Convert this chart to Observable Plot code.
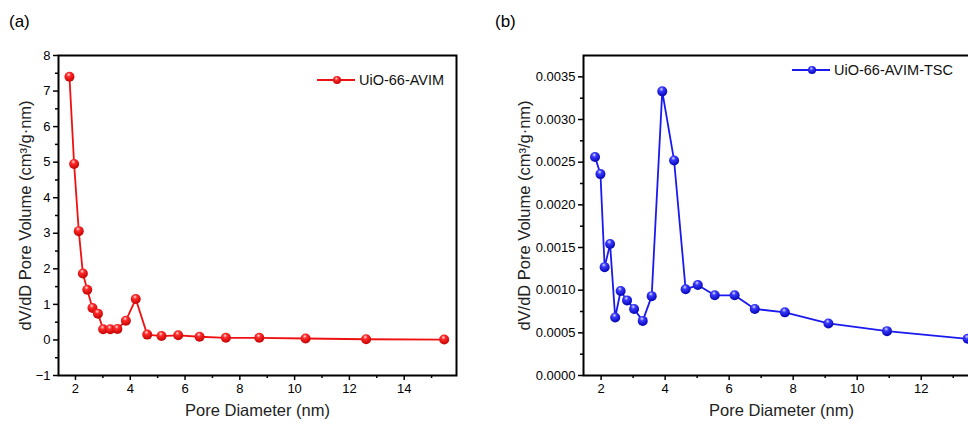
<!DOCTYPE html>
<html>
<head>
<meta charset="utf-8">
<script src="https://cdn.jsdelivr.net/npm/d3@7"></script>
<script src="https://cdn.jsdelivr.net/npm/@observablehq/plot@0.6"></script>
<style>
  html, body { margin: 0; padding: 0; background: #fff; overflow: hidden; }
  #wrap { position: relative; width: 968px; height: 425px; overflow: hidden; font-family: "Liberation Sans", Arial, sans-serif; }
  .panel { position: absolute; top: 0; width: 600px; }
  .panel svg { max-width: none !important; display: block; }
  .tag { position: absolute; font-size: 17px; color: #000; }
  .legend { position: absolute; display: flex; align-items: center; font-size: 14.5px; color: #111; white-space: nowrap; }
  .legend svg { margin-right: 4px; }
</style>
</head>
<body>
<div id="wrap"></div>
<script>
// ---- Data ----
const poreA = [1.78, 1.95, 2.12, 2.27, 2.43, 2.62, 2.82, 3.01, 3.27, 3.53, 3.84, 4.20, 4.62, 5.14, 5.75, 6.53, 7.49, 8.71, 10.40, 12.61, 15.46];
const volA  = [7.40, 4.95, 3.06, 1.87, 1.41, 0.90, 0.74, 0.30, 0.30, 0.31, 0.54, 1.15, 0.15, 0.11, 0.13, 0.09, 0.06, 0.06, 0.04, 0.02, 0.01];
const poreB = [1.81, 1.98, 2.11, 2.28, 2.44, 2.61, 2.81, 3.03, 3.30, 3.58, 3.91, 4.28, 4.64, 5.02, 5.55, 6.17, 6.80, 7.74, 9.10, 10.93, 13.45];
const volB  = [0.00256, 0.00236, 0.00127, 0.00154, 0.00068, 0.00099, 0.00088, 0.00078, 0.00064, 0.00093, 0.00333, 0.00252, 0.00101, 0.00106, 0.00094, 0.00094, 0.00078, 0.00074, 0.00061, 0.00052, 0.00043];

const seriesA = "UiO-66-AVIM";
const seriesB = "UiO-66-AVIM-TSC";
const xTicksA = [2, 4, 6, 8, 10, 12, 14];
const yTicksA = [-1, 0, 1, 2, 3, 4, 5, 6, 7, 8];
const xTicksB = [2, 4, 6, 8, 10, 12];
const yTicksB = [0, 0.0005, 0.001, 0.0015, 0.002, 0.0025, 0.003, 0.0035];
const xTitle = "Pore Diameter (nm)";
const yTitle = "dV/dD Pore Volume (cm³/g·nm)";

const rowsA = poreA.map((d, i) => ({d, v: volA[i]}));
const rowsB = poreB.map((d, i) => ({d, v: volB[i]}));

const fontFamily = '"Liberation Sans", Arial, sans-serif';

function panel({rows, width, marginLeft, xDomain, yDomain, xTicks, yTicks, xMinor, yMinor, yFormat, color, grad, titleDx}) {
  const svg = Plot.plot({
    width, height: 425,
    marginLeft, marginRight: 24, marginTop: 55, marginBottom: 50,
    style: {fontFamily, fontSize: "13px", color: "#000", background: "transparent", overflow: "visible", maxWidth: "none"},
    x: {domain: xDomain},
    y: {domain: yDomain},
    marks: [
      Plot.axisX({ticks: xMinor, tickSize: 3, tickFormat: () => "", label: null, strokeWidth: 1.5}),
      Plot.axisX({ticks: xTicks, tickSize: 5, tickPadding: 3, label: null, strokeWidth: 1.5}),
      Plot.axisY({ticks: yMinor, tickSize: 3, tickFormat: () => "", label: null, strokeWidth: 1.5}),
      Plot.axisY({ticks: yTicks, tickSize: 5, tickPadding: 3, label: null, strokeWidth: 1.5, tickFormat: yFormat}),
      Plot.line(rows, {x: "d", y: "v", stroke: color, strokeWidth: 1.8}),
      Plot.dot(rows, {x: "d", y: "v", r: 5, fill: `url(#${grad})`, stroke: "none"}),
      Plot.frame({strokeWidth: 2, stroke: "#000"}),
      Plot.text([xTitle], {frameAnchor: "bottom", dy: 40, fontSize: 16.5, fill: "#222"}),
      Plot.text([yTitle], {frameAnchor: "left", textAnchor: "middle", rotate: -90, dx: titleDx, fontSize: 16.5, fill: "#222"})
    ]
  });
  return svg;
}

function addGradient(svg, id, light, mid, dark) {
  d3.select(svg).insert("defs", ":first-child").html(
    `<radialGradient id="${id}" cx="0.42" cy="0.32" r="0.7" fx="0.42" fy="0.28">
       <stop offset="0" stop-color="${light}"/>
       <stop offset="0.3" stop-color="${mid}"/>
       <stop offset="1" stop-color="${dark}"/>
     </radialGradient>`
  );
}

const wrap = document.getElementById("wrap");

const svgA = panel({
  rows: rowsA, width: 480, marginLeft: 58,
  xDomain: [1.38, 15.91], yDomain: [-1, 8],
  xTicks: xTicksA, yTicks: yTicksA,
  xMinor: d3.range(3, 16, 2), yMinor: d3.range(-0.5, 8, 1),
  yFormat: undefined, color: "#ee1111", grad: "ballred", titleDx: -33
});
addGradient(svgA, "ballred", "#ffe0e0", "#ff2a2a", "#c00000");
const divA = document.createElement("div");
divA.className = "panel"; divA.style.left = "0px";
divA.appendChild(svgA);
wrap.appendChild(divA);

const svgB = panel({
  rows: rowsB, width: 515, marginLeft: 95,
  xDomain: [1.45, 13.82], yDomain: [0, 0.00375],
  xTicks: xTicksB, yTicks: yTicksB,
  xMinor: d3.range(3, 14, 2), yMinor: d3.range(0.00025, 0.0037, 0.0005),
  yFormat: d3.format(".4f"), color: "#1a1aee", grad: "ballblue", titleDx: -59
});
addGradient(svgB, "ballblue", "#e0e0ff", "#3a3aff", "#0000b0");
const divB = document.createElement("div");
divB.className = "panel"; divB.style.left = "488px";
divB.appendChild(svgB);
wrap.appendChild(divB);

// panel tags
for (const [t, x] of [["(a)", 9], ["(b)", 495]]) {
  const el = document.createElement("div");
  el.className = "tag"; el.textContent = t;
  el.style.left = x + "px"; el.style.top = "12px";
  wrap.appendChild(el);
}

// legends
function legend(label, color, gradColors, left, top) {
  const el = document.createElement("div");
  el.className = "legend";
  el.style.left = left + "px"; el.style.top = top + "px";
  el.innerHTML = `<svg width="38" height="14"><defs><radialGradient id="lg${color.slice(1)}" cx="0.42" cy="0.32" r="0.7"><stop offset="0" stop-color="${gradColors[0]}"/><stop offset="0.3" stop-color="${gradColors[1]}"/><stop offset="1" stop-color="${gradColors[2]}"/></radialGradient></defs><line x1="0" x2="38" y1="7" y2="7" stroke="${color}" stroke-width="1.8"/><circle cx="20" cy="7" r="4" fill="url(#lg${color.slice(1)})"/></svg><span>${label}</span>`;
  wrap.appendChild(el);
}
legend(seriesA, "#ee1111", ["#ffe0e0", "#ff2a2a", "#c00000"], 317, 72);
legend(seriesB, "#1a1aee", ["#e0e0ff", "#3a3aff", "#0000b0"], 792, 62);
</script>
</body>
</html>
